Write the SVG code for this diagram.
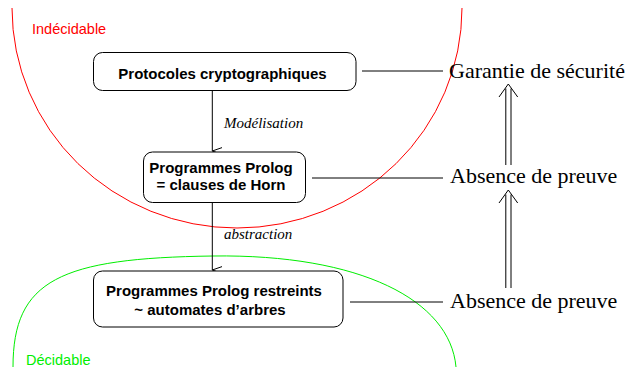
<svg xmlns="http://www.w3.org/2000/svg" width="630" height="367" viewBox="0 0 630 367">
  <style>
    .box { fill: #ffffff; stroke: #000000; stroke-width: 1; }
    .lbl { font-family: "Liberation Sans", Arial, sans-serif; font-weight: bold; font-size: 15px; fill: #000000; text-anchor: middle; }
    .step { font-family: "Liberation Serif", "Times New Roman", serif; font-style: italic; font-size: 15px; fill: #000000; }
    .claim { font-family: "Liberation Serif", "Times New Roman", serif; font-size: 22px; fill: #000000; }
    .region { font-family: "Liberation Sans", Arial, sans-serif; font-size: 14.5px; }
    .wire { fill: none; stroke: #000000; stroke-width: 1; }
  </style>
  <defs>
    <marker id="vee" viewBox="0 0 8 10" refX="4" refY="10" markerWidth="8" markerHeight="10" markerUnits="userSpaceOnUse" orient="auto-start-reverse">
      <path d="M0.5 0 L4 10 L7.5 0" fill="none" stroke="#000000" stroke-width="1"/>
    </marker>
  </defs>

  <!-- decidability regions -->
  <g id="undecidable">
    <path d="M12 8 A225 220 0 0 0 462 8" fill="none" stroke="#ff0000" stroke-width="1"/>
    <text class="region" x="32" y="34" fill="#ff0000">Indécidable</text>
  </g>
  <g id="decidable">
    <path d="M13 367 C13 280 60 258 213 256 C360 254 450 300 456 367" fill="none" stroke="#00ee00" stroke-width="1"/>
    <text class="region" x="26" y="365" fill="#00ee00">Décidable</text>
  </g>

  <!-- connectors -->
  <g id="connectors">
    <line class="wire" x1="212.3" y1="91" x2="212.3" y2="151" marker-end="url(#vee)"/>
    <line class="wire" x1="212.3" y1="203" x2="212.3" y2="270" marker-end="url(#vee)"/>
    <text class="step" x="224" y="128">Modélisation</text>
    <text class="step" x="224" y="239">abstraction</text>

    <line class="wire" x1="362" y1="71" x2="443" y2="71"/>
    <line class="wire" x1="312" y1="178" x2="443" y2="178"/>
    <line class="wire" x1="350" y1="302" x2="443" y2="302"/>

    <!-- double-shafted implication arrows -->
    <path class="wire" d="M499 97 L508.3 84 L517.7 97"/>
    <line class="wire" x1="505.8" y1="88.5" x2="505.8" y2="165"/>
    <line class="wire" x1="511" y1="88.5" x2="511" y2="165"/>
    <path class="wire" d="M499 203 L508.3 190 L517.7 203"/>
    <line class="wire" x1="505.8" y1="194.5" x2="505.8" y2="288"/>
    <line class="wire" x1="511" y1="194.5" x2="511" y2="288"/>
  </g>

  <!-- nodes -->
  <g id="protocoles">
    <rect class="box" x="93.5" y="52.5" width="262.5" height="38" rx="9"/>
    <text class="lbl" x="222.5" y="78.5">Protocoles cryptographiques</text>
  </g>
  <g id="prolog">
    <rect class="box" x="143.5" y="152" width="162" height="50.5" rx="9"/>
    <text class="lbl" x="221" y="172.5">Programmes Prolog</text>
    <text class="lbl" x="221" y="190">= clauses de Horn</text>
  </g>
  <g id="prolog-restreints">
    <rect class="box" x="93.5" y="271" width="249.5" height="56" rx="9"/>
    <text class="lbl" x="214" y="295.5">Programmes Prolog restreints</text>
    <text class="lbl" x="210" y="315">~ automates d’arbres</text>
  </g>

  <g id="garantie">
    <text class="claim" x="449" y="78">Garantie de sécurité</text>
  </g>
  <g id="absence-1">
    <text class="claim" x="450" y="183">Absence de preuve</text>
  </g>
  <g id="absence-2">
    <text class="claim" x="450" y="308">Absence de preuve</text>
  </g>
</svg>
